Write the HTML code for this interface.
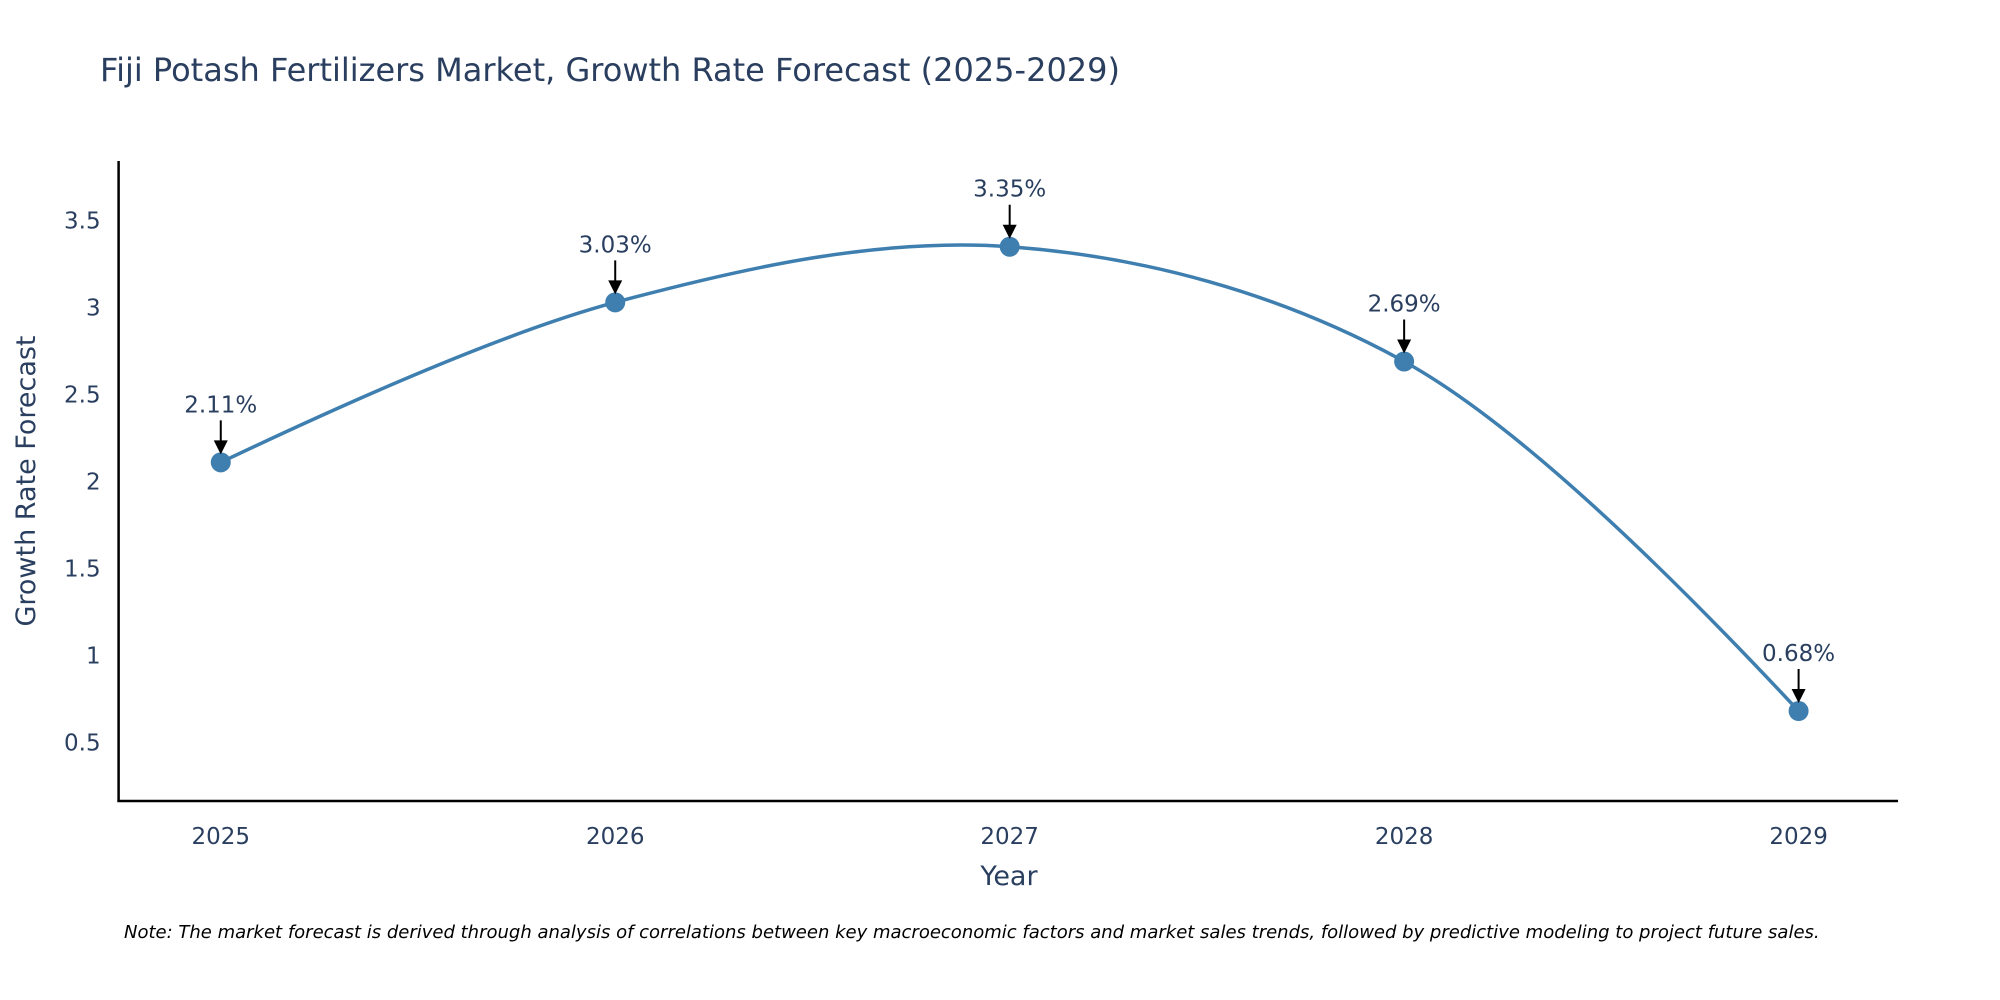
<!DOCTYPE html>
<html><head><meta charset="utf-8"><style>
html,body{margin:0;padding:0;background:#fff;width:2000px;height:1000px;overflow:hidden;}
svg text{font-family:"DejaVu Sans","Liberation Sans",sans-serif;fill:#2a3f5f;}
</style></head><body>
<svg width="2000" height="1000" xmlns="http://www.w3.org/2000/svg">
<text x="100" y="81" font-size="32">Fiji Potash Fertilizers Market, Growth Rate Forecast (2025-2029)</text>
<g id="yticks"></g>
<g id="xticks"></g>
<line x1="118.6" y1="161" x2="118.6" y2="802" stroke="#000" stroke-width="2.5"/>
<line x1="117.4" y1="801" x2="1898" y2="801" stroke="#000" stroke-width="2.5"/>
<text x="0" y="0" font-size="27" text-anchor="middle" transform="translate(35,481) rotate(-90)">Growth Rate Forecast</text>
<text x="1009" y="885" font-size="27" text-anchor="middle">Year</text>
<path id="line" fill="none" stroke="#3f7fb0" stroke-width="3.5"/>
<g id="points"></g>
<g id="annots"></g>
<text x="124" y="938" font-size="18" font-style="italic" style="fill:#000">Note: The market forecast is derived through analysis of correlations between key macroeconomic factors and market sales trends, followed by predictive modeling to project future sales.</text>
</svg>
<script>
const years=[2025,2026,2027,2028,2029];
const values=[2.11,3.03,3.35,2.69,0.68];
const labels=["2.11%","3.03%","3.35%","2.69%","0.68%"];
const yTicks=[0.5,1,1.5,2,2.5,3,3.5];
const yTickLabels=["0.5","1","1.5","2","2.5","3","3.5"];
const NS="http://www.w3.org/2000/svg";
const X0=118.6,X1=1898,Y0=801,Y1=161;
const xmin=2024.741,xmax=2029.252,ymin=0.1625,ymax=3.843;
function xs(v){return X0+(v-xmin)/(xmax-xmin)*(X1-X0);}
function ys(v){return Y0-(v-ymin)/(ymax-ymin)*(Y0-Y1);}
function mk(tag,attrs,parent){const e=document.createElementNS(NS,tag);for(const k in attrs)e.setAttribute(k,attrs[k]);document.getElementById(parent).appendChild(e);return e;}
yTicks.forEach((t,i)=>{const e=mk('text',{x:X0-18,y:ys(t)+8,'font-size':23,'text-anchor':'end'},'yticks');


e.textContent=yTickLabels[i];});
years.forEach(y=>{const e=mk('text',{x:xs(y),y:Y0+43,'font-size':23,'text-anchor':'middle'},'xticks');


e.textContent=String(y);});
const pts=years.map((y,i)=>[xs(y),ys(values[i])]);
function tan(p,t,n,s){const d1x=p[0]-t[0],d1y=p[1]-t[1],d2x=n[0]-t[0],d2y=n[1]-t[1];
const d1a=Math.pow(d1x*d1x+d1y*d1y,0.25),d2a=Math.pow(d2x*d2x+d2y*d2y,0.25);
const nx=(d2a*d2a*d1x-d1a*d1a*d2x)*s,ny=(d2a*d2a*d1y-d1a*d1a*d2y)*s;
const a=3*d2a*(d1a+d2a),b=3*d1a*(d1a+d2a);
return [[t[0]+nx/a,t[1]+ny/a],[t[0]-nx/b,t[1]-ny/b]];}
const T=[];for(let i=1;i<pts.length-1;i++)T.push(tan(pts[i-1],pts[i],pts[i+1],1));
let d='M'+pts[0]+'Q'+T[0][0]+' '+pts[1];
for(let i=1;i<pts.length-2;i++)d+='C'+T[i-1][1]+' '+T[i][0]+' '+pts[i+1];
d+='Q'+T[T.length-1][1]+' '+pts[pts.length-1];
document.getElementById('line').setAttribute('d',d);
pts.forEach((p,i)=>{
const c=mk('circle',{cx:p[0],cy:p[1],r:10,fill:'#3f7fb0'},'points');


const l=mk('line',{x1:p[0],y1:p[1]-42,x2:p[0],y2:p[1]-20,stroke:'#000','stroke-width':2},'annots');


const h=mk('polygon',{points:`${p[0]-7},${p[1]-22} ${p[0]+7},${p[1]-22} ${p[0]},${p[1]-8}`,fill:'#000'},'annots');


const t=mk('text',{x:p[0],y:p[1]-50,'font-size':23,'text-anchor':'middle'},'annots');


t.textContent=labels[i];});
</script>
</body></html>
